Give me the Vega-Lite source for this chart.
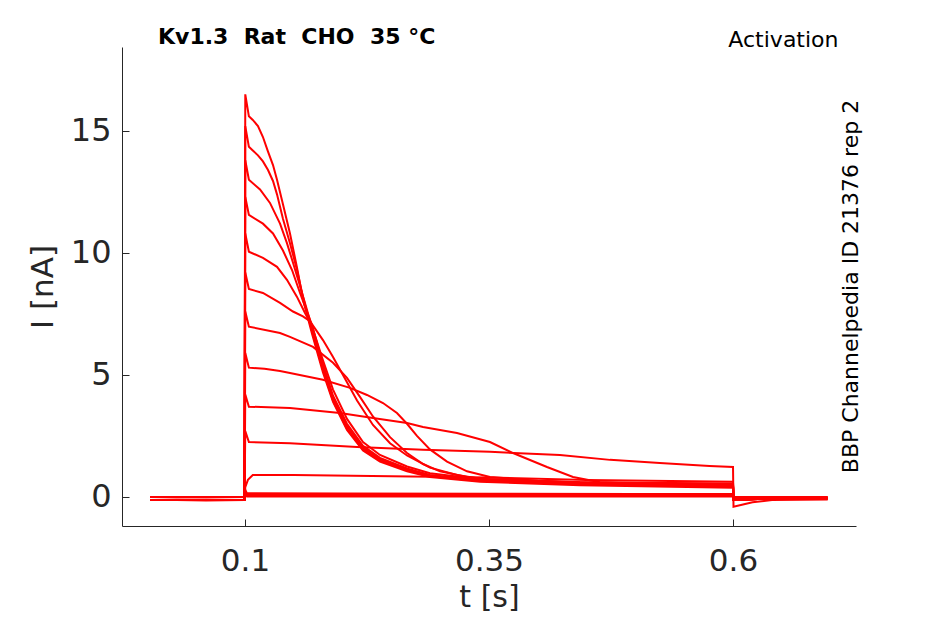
{
  "$schema": "https://vega.github.io/schema/vega-lite/v6.json",
  "width": 734,
  "height": 479,
  "autosize": {"type": "none"},
  "padding": {"left": 122, "top": 47, "right": 89, "bottom": 98},
  "background": "white",
  "config": {
    "view": {"stroke": null},
    "font": "DejaVu Sans"
  },
  "title": {
    "text": "Kv1.3\u00a0 Rat\u00a0 CHO\u00a0 35 °C",
    "anchor": "start",
    "frame": "group",
    "dx": 36,
    "baseline": "alphabetic",
    "offset": -38,
    "fontSize": 22,
    "fontWeight": "bold",
    "font": "DejaVu Sans",
    "color": "#000000"
  },
  "datasets": {
    "traces": [
      {"k":"A","t":0.003,"i":0.0},{"k":"A","t":0.03,"i":0.0},{"k":"A","t":0.06,"i":-0.02},{"k":"A","t":0.0995,"i":0.0},
      {"k":"A","t":0.1003,"i":16.5},{"k":"A","t":0.104,"i":15.6},{"k":"A","t":0.108,"i":15.45},{"k":"A","t":0.1133,"i":15.2},{"k":"A","t":0.1184,"i":14.75},{"k":"A","t":0.1236,"i":14.15},{"k":"A","t":0.1287,"i":13.6},{"k":"A","t":0.1328,"i":13.0},{"k":"A","t":0.1389,"i":12.0},{"k":"A","t":0.1461,"i":10.8},{"k":"A","t":0.1533,"i":9.4},{"k":"A","t":0.1594,"i":8.1},{"k":"A","t":0.1686,"i":6.7},{"k":"A","t":0.1799,"i":5.1},{"k":"A","t":0.1902,"i":3.9},{"k":"A","t":0.2045,"i":2.75},{"k":"A","t":0.2209,"i":1.9},{"k":"A","t":0.2383,"i":1.45},{"k":"A","t":0.266,"i":1.05},{"k":"A","t":0.2895,"i":0.82},{"k":"A","t":0.3408,"i":0.62},{"k":"A","t":0.4432,"i":0.48},{"k":"A","t":0.6,"i":0.38},
      {"k":"A","t":0.6005,"i":-0.12},{"k":"A","t":0.64,"i":-0.06},{"k":"A","t":0.697,"i":-0.05},

      {"k":"B","t":0.003,"i":0.0},{"k":"B","t":0.03,"i":0.0},{"k":"B","t":0.06,"i":0.0},{"k":"B","t":0.0995,"i":0.0},
      {"k":"B","t":0.1003,"i":15.2},{"k":"B","t":0.104,"i":14.35},{"k":"B","t":0.108,"i":14.2},{"k":"B","t":0.1133,"i":14.0},{"k":"B","t":0.1184,"i":13.75},{"k":"B","t":0.1236,"i":13.4},{"k":"B","t":0.1287,"i":12.95},{"k":"B","t":0.1328,"i":12.4},{"k":"B","t":0.1389,"i":11.4},{"k":"B","t":0.1461,"i":10.4},{"k":"B","t":0.1533,"i":9.3},{"k":"B","t":0.1594,"i":8.2},{"k":"B","t":0.1686,"i":6.8},{"k":"B","t":0.1799,"i":5.2},{"k":"B","t":0.1902,"i":3.95},{"k":"B","t":0.2045,"i":2.8},{"k":"B","t":0.2209,"i":1.95},{"k":"B","t":0.2383,"i":1.5},{"k":"B","t":0.266,"i":1.1},{"k":"B","t":0.2895,"i":0.85},{"k":"B","t":0.3408,"i":0.65},{"k":"B","t":0.4432,"i":0.52},{"k":"B","t":0.6,"i":0.42},
      {"k":"B","t":0.6005,"i":-0.12},{"k":"B","t":0.64,"i":-0.06},{"k":"B","t":0.697,"i":-0.05},

      {"k":"C","t":0.003,"i":0.0},{"k":"C","t":0.03,"i":-0.02},{"k":"C","t":0.06,"i":0.0},{"k":"C","t":0.0995,"i":0.0},
      {"k":"C","t":0.1003,"i":13.8},{"k":"C","t":0.104,"i":13.0},{"k":"C","t":0.1154,"i":12.6},{"k":"C","t":0.1256,"i":12.05},{"k":"C","t":0.1359,"i":11.2},{"k":"C","t":0.143,"i":10.4},{"k":"C","t":0.1492,"i":9.6},{"k":"C","t":0.156,"i":8.7},{"k":"C","t":0.1625,"i":7.8},{"k":"C","t":0.1686,"i":6.95},{"k":"C","t":0.1799,"i":5.35},{"k":"C","t":0.1902,"i":4.05},{"k":"C","t":0.2045,"i":2.9},{"k":"C","t":0.2209,"i":2.02},{"k":"C","t":0.2383,"i":1.55},{"k":"C","t":0.266,"i":1.13},{"k":"C","t":0.2895,"i":0.88},{"k":"C","t":0.3408,"i":0.67},{"k":"C","t":0.4432,"i":0.54},{"k":"C","t":0.6,"i":0.44},
      {"k":"C","t":0.6005,"i":-0.12},{"k":"C","t":0.64,"i":-0.06},{"k":"C","t":0.697,"i":-0.05},

      {"k":"D","t":0.003,"i":0.0},{"k":"D","t":0.03,"i":0.0},{"k":"D","t":0.06,"i":0.0},{"k":"D","t":0.0995,"i":0.0},
      {"k":"D","t":0.1003,"i":12.3},{"k":"D","t":0.104,"i":11.56},{"k":"D","t":0.1184,"i":11.2},{"k":"D","t":0.1287,"i":10.8},{"k":"D","t":0.1389,"i":10.1},{"k":"D","t":0.1482,"i":9.3},{"k":"D","t":0.1564,"i":8.36},{"k":"D","t":0.1625,"i":7.7},{"k":"D","t":0.1686,"i":7.05},{"k":"D","t":0.1799,"i":5.45},{"k":"D","t":0.1902,"i":4.15},{"k":"D","t":0.2045,"i":3.0},{"k":"D","t":0.2209,"i":2.1},{"k":"D","t":0.2383,"i":1.6},{"k":"D","t":0.266,"i":1.17},{"k":"D","t":0.2895,"i":0.9},{"k":"D","t":0.3408,"i":0.69},{"k":"D","t":0.4432,"i":0.55},{"k":"D","t":0.6,"i":0.45},
      {"k":"D","t":0.6005,"i":-0.12},{"k":"D","t":0.64,"i":-0.06},{"k":"D","t":0.697,"i":-0.05},

      {"k":"E","t":0.003,"i":0.0},{"k":"E","t":0.03,"i":0.0},{"k":"E","t":0.06,"i":0.0},{"k":"E","t":0.0995,"i":0.0},
      {"k":"E","t":0.1003,"i":10.8},{"k":"E","t":0.104,"i":10.05},{"k":"E","t":0.1184,"i":9.8},{"k":"E","t":0.1328,"i":9.43},{"k":"E","t":0.143,"i":8.9},{"k":"E","t":0.1533,"i":8.2},{"k":"E","t":0.1615,"i":7.54},{"k":"E","t":0.1686,"i":7.0},{"k":"E","t":0.1799,"i":5.6},{"k":"E","t":0.1902,"i":4.4},{"k":"E","t":0.2045,"i":3.2},{"k":"E","t":0.2209,"i":2.25},{"k":"E","t":0.2383,"i":1.72},{"k":"E","t":0.266,"i":1.25},{"k":"E","t":0.2895,"i":0.97},{"k":"E","t":0.3408,"i":0.73},{"k":"E","t":0.4432,"i":0.58},{"k":"E","t":0.6,"i":0.48},
      {"k":"E","t":0.6005,"i":-0.12},{"k":"E","t":0.64,"i":-0.06},{"k":"E","t":0.697,"i":-0.05},

      {"k":"F","t":0.003,"i":0.0},{"k":"F","t":0.03,"i":0.0},{"k":"F","t":0.06,"i":0.0},{"k":"F","t":0.0995,"i":0.0},
      {"k":"F","t":0.1003,"i":9.2},{"k":"F","t":0.104,"i":8.52},{"k":"F","t":0.1184,"i":8.36},{"k":"F","t":0.1359,"i":7.95},{"k":"F","t":0.1492,"i":7.6},{"k":"F","t":0.1594,"i":7.4},{"k":"F","t":0.1666,"i":7.2},{"k":"F","t":0.1799,"i":6.43},{"k":"F","t":0.1902,"i":5.74},{"k":"F","t":0.2004,"i":5.0},{"k":"F","t":0.2148,"i":3.95},{"k":"F","t":0.2311,"i":2.95},{"k":"F","t":0.2486,"i":2.2},{"k":"F","t":0.266,"i":1.7},{"k":"F","t":0.2895,"i":1.2},{"k":"F","t":0.3172,"i":0.9},{"k":"F","t":0.3408,"i":0.75},{"k":"F","t":0.4432,"i":0.58},{"k":"F","t":0.6,"i":0.48},
      {"k":"F","t":0.6005,"i":-0.12},{"k":"F","t":0.64,"i":-0.06},{"k":"F","t":0.697,"i":-0.05},

      {"k":"G","t":0.003,"i":-0.12},{"k":"G","t":0.03,"i":-0.12},{"k":"G","t":0.06,"i":-0.14},{"k":"G","t":0.0995,"i":-0.12},
      {"k":"G","t":0.1003,"i":7.6},{"k":"G","t":0.104,"i":6.98},{"k":"G","t":0.1359,"i":6.72},{"k":"G","t":0.1461,"i":6.56},{"k":"G","t":0.1697,"i":6.15},{"k":"G","t":0.1902,"i":5.5},{"k":"G","t":0.2045,"i":4.88},{"k":"G","t":0.2178,"i":4.1},{"k":"G","t":0.2311,"i":3.3},{"k":"G","t":0.2486,"i":2.45},{"k":"G","t":0.266,"i":1.8},{"k":"G","t":0.2824,"i":1.35},{"k":"G","t":0.2998,"i":1.05},{"k":"G","t":0.3275,"i":0.82},{"k":"G","t":0.351,"i":0.72},{"k":"G","t":0.4432,"i":0.6},{"k":"G","t":0.6,"i":0.52},
      {"k":"G","t":0.6005,"i":-0.12},{"k":"G","t":0.64,"i":-0.06},{"k":"G","t":0.697,"i":-0.05},

      {"k":"H","t":0.003,"i":-0.12},{"k":"H","t":0.03,"i":-0.12},{"k":"H","t":0.06,"i":-0.12},{"k":"H","t":0.0995,"i":-0.12},
      {"k":"H","t":0.1003,"i":5.9},{"k":"H","t":0.104,"i":5.3},{"k":"H","t":0.12,"i":5.25},{"k":"H","t":0.1359,"i":5.16},{"k":"H","t":0.1461,"i":5.08},{"k":"H","t":0.1799,"i":4.8},{"k":"H","t":0.2076,"i":4.47},{"k":"H","t":0.225,"i":4.18},{"k":"H","t":0.2414,"i":3.85},{"k":"H","t":0.2557,"i":3.44},{"k":"H","t":0.266,"i":3.0},{"k":"H","t":0.2762,"i":2.5},{"k":"H","t":0.2895,"i":1.95},{"k":"H","t":0.307,"i":1.45},{"k":"H","t":0.3275,"i":1.05},{"k":"H","t":0.351,"i":0.82},{"k":"H","t":0.4,"i":0.66},{"k":"H","t":0.4432,"i":0.6},{"k":"H","t":0.6,"i":0.55},
      {"k":"H","t":0.6005,"i":-0.12},{"k":"H","t":0.64,"i":-0.06},{"k":"H","t":0.697,"i":-0.05},

      {"k":"I","t":0.003,"i":-0.12},{"k":"I","t":0.03,"i":-0.12},{"k":"I","t":0.06,"i":-0.12},{"k":"I","t":0.0995,"i":-0.12},
      {"k":"I","t":0.1003,"i":4.2},{"k":"I","t":0.104,"i":3.7},{"k":"I","t":0.1461,"i":3.65},{"k":"I","t":0.1973,"i":3.44},{"k":"I","t":0.2311,"i":3.24},{"k":"I","t":0.266,"i":3.03},{"k":"I","t":0.2824,"i":2.87},{"k":"I","t":0.3172,"i":2.62},{"k":"I","t":0.351,"i":2.25},{"k":"I","t":0.3746,"i":1.8},{"k":"I","t":0.4094,"i":1.23},{"k":"I","t":0.4361,"i":0.82},{"k":"I","t":0.4637,"i":0.6},{"k":"I","t":0.515,"i":0.52},{"k":"I","t":0.6,"i":0.5},
      {"k":"I","t":0.6005,"i":-0.12},{"k":"I","t":0.64,"i":-0.06},{"k":"I","t":0.697,"i":-0.05},

      {"k":"J","t":0.003,"i":-0.12},{"k":"J","t":0.03,"i":-0.12},{"k":"J","t":0.06,"i":-0.12},{"k":"J","t":0.0995,"i":-0.12},
      {"k":"J","t":0.1003,"i":2.7},{"k":"J","t":0.104,"i":2.25},{"k":"J","t":0.1461,"i":2.2},{"k":"J","t":0.2148,"i":2.05},{"k":"J","t":0.2824,"i":1.93},{"k":"J","t":0.351,"i":1.85},{"k":"J","t":0.4227,"i":1.72},{"k":"J","t":0.474,"i":1.52},{"k":"J","t":0.525,"i":1.39},{"k":"J","t":0.576,"i":1.27},{"k":"J","t":0.6,"i":1.23},
      {"k":"J","t":0.6005,"i":-0.4},{"k":"J","t":0.62,"i":-0.22},{"k":"J","t":0.64,"i":-0.12},{"k":"J","t":0.697,"i":-0.1},

      {"k":"K","t":0.003,"i":-0.12},{"k":"K","t":0.03,"i":-0.12},{"k":"K","t":0.06,"i":-0.12},{"k":"K","t":0.0995,"i":-0.12},
      {"k":"K","t":0.1003,"i":0.4},{"k":"K","t":0.103,"i":0.7},{"k":"K","t":0.108,"i":0.9},{"k":"K","t":0.15,"i":0.9},{"k":"K","t":0.25,"i":0.85},{"k":"K","t":0.35,"i":0.8},{"k":"K","t":0.45,"i":0.7},{"k":"K","t":0.6,"i":0.62},
      {"k":"K","t":0.6005,"i":-0.1},{"k":"K","t":0.64,"i":-0.04},{"k":"K","t":0.697,"i":-0.03},

      {"k":"L","t":0.003,"i":0.0},{"k":"L","t":0.03,"i":0.0},{"k":"L","t":0.06,"i":0.0},{"k":"L","t":0.0995,"i":0.0},
      {"k":"L","t":0.1003,"i":0.3},{"k":"L","t":0.102,"i":0.15},{"k":"L","t":0.2,"i":0.14},{"k":"L","t":0.35,"i":0.13},{"k":"L","t":0.5,"i":0.12},{"k":"L","t":0.6,"i":0.12},
      {"k":"L","t":0.6005,"i":0.0},{"k":"L","t":0.697,"i":-0.02},

      {"k":"M","t":0.003,"i":0.0},{"k":"M","t":0.03,"i":0.0},{"k":"M","t":0.06,"i":0.0},{"k":"M","t":0.0995,"i":0.0},
      {"k":"M","t":0.1003,"i":0.2},{"k":"M","t":0.102,"i":0.1},{"k":"M","t":0.3,"i":0.09},{"k":"M","t":0.6,"i":0.08},
      {"k":"M","t":0.6005,"i":0.0},{"k":"M","t":0.697,"i":0.0},

      {"k":"N","t":0.003,"i":-0.12},{"k":"N","t":0.03,"i":-0.12},{"k":"N","t":0.06,"i":-0.12},{"k":"N","t":0.0995,"i":-0.12},
      {"k":"N","t":0.1003,"i":0.15},{"k":"N","t":0.102,"i":0.05},{"k":"N","t":0.3,"i":0.05},{"k":"N","t":0.6,"i":0.04},
      {"k":"N","t":0.6005,"i":-0.02},{"k":"N","t":0.697,"i":-0.03},

      {"k":"O","t":0.003,"i":-0.12},{"k":"O","t":0.03,"i":-0.12},{"k":"O","t":0.06,"i":-0.12},{"k":"O","t":0.0995,"i":-0.12},
      {"k":"O","t":0.1003,"i":0.1},{"k":"O","t":0.102,"i":0.02},{"k":"O","t":0.3,"i":0.02},{"k":"O","t":0.6,"i":0.02},
      {"k":"O","t":0.6005,"i":-0.05},{"k":"O","t":0.697,"i":-0.05}
    ]
  },
  "data": {"name": "traces"},
  "layer": [
    {
      "mark": {"type": "line", "color": "#ff0000", "strokeWidth": 2, "clip": true},
      "encoding": {
        "x": {
          "field": "t", "type": "quantitative",
          "scale": {"domain": [-0.026, 0.726], "nice": false, "zero": false},
          "axis": {
            "orient": "bottom", "values": [0.1, 0.35, 0.6], "labelExpr": "'' + datum.value",
            "title": "t [s]", "grid": false,
            "domainColor": "#262626", "domainWidth": 1,
            "tickColor": "#262626", "tickSize": -7, "tickWidth": 1,
            "labelFont": "DejaVu Sans", "labelFontSize": 31, "labelColor": "#262626", "labelPadding": 27,
            "titleFont": "DejaVu Sans", "titleFontSize": 30, "titleFontWeight": "normal", "titleColor": "#262626", "titlePadding": 6
          }
        },
        "y": {
          "field": "i", "type": "quantitative",
          "scale": {"domain": [-1.19, 18.44], "nice": false, "zero": false},
          "axis": {
            "orient": "left", "values": [0, 5, 10, 15],
            "title": "I [nA]", "grid": false,
            "domainColor": "#262626", "domainWidth": 1,
            "tickColor": "#262626", "tickSize": -7, "tickWidth": 1,
            "labelFont": "DejaVu Sans", "labelFontSize": 32, "labelColor": "#262626", "labelPadding": 18,
            "titleFont": "DejaVu Sans", "titleFontSize": 31, "titleFontWeight": "normal", "titleColor": "#262626", "titlePadding": 11
          }
        },
        "detail": {"field": "k", "type": "nominal"}
      }
    },
    {
      "mark": {"type": "line", "strokeOpacity": 0, "clip": true},
      "encoding": {
        "x": {
          "field": "t", "type": "quantitative",
          "axis": {
            "orient": "top", "domain": false, "ticks": false, "labels": false, "grid": false,
            "title": "Activation",
            "titleFont": "DejaVu Sans", "titleFontSize": 22, "titleFontWeight": "normal", "titleColor": "#000000",
            "titleX": 716, "titleY": -1, "titleAlign": "right", "titleBaseline": "alphabetic"
          }
        },
        "y": {
          "field": "i", "type": "quantitative",
          "axis": {
            "orient": "right", "domain": false, "ticks": false, "labels": false, "grid": false,
            "title": "BBP Channelpedia ID 21376 rep 2",
            "titleFont": "DejaVu Sans", "titleFontSize": 22, "titleFontWeight": "normal", "titleColor": "#000000",
            "titleAngle": 270, "titleX": 1, "titleY": 239, "titleAlign": "center", "titleBaseline": "alphabetic"
          }
        },
        "detail": {"field": "k", "type": "nominal"}
      }
    }
  ],
  "resolve": {"axis": {"x": "independent", "y": "independent"}}
}
